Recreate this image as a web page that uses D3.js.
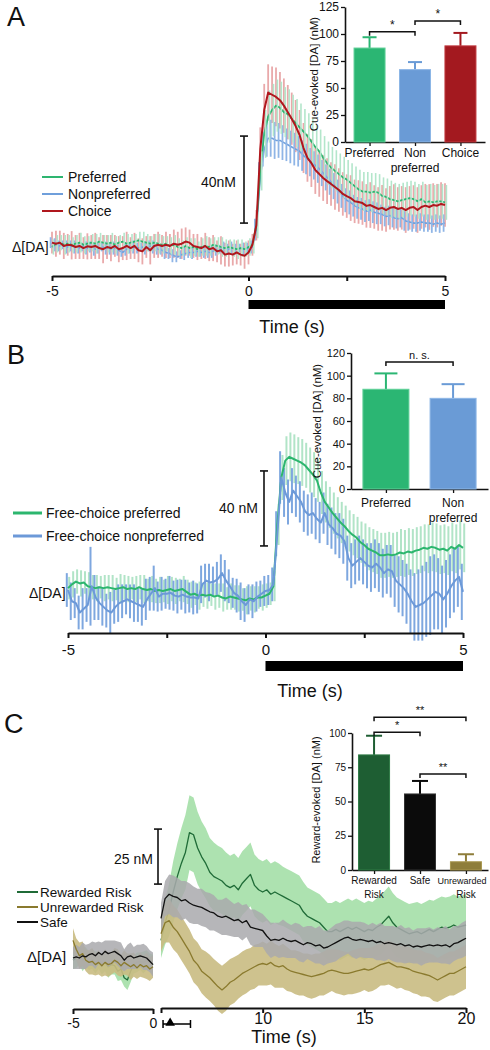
<!DOCTYPE html>
<html><head><meta charset="utf-8">
<script src="https://cdn.jsdelivr.net/npm/d3@7"></script>
<style>
body{margin:0;background:#fff}
svg{display:block}
text{font-family:"Liberation Sans",Arial,Helvetica,sans-serif;fill:#111}
</style></head>
<body><svg id="c" width="490" height="1050"></svg>
<script>
// ---------------- DATA ----------------
// Panel A: 0.1 s samples from -5 to 5 s (nM)
const aChoice = [2,1.5,2,0.5,1,0.8,0,0.5,-0.5,0.3, 0,0.5,-0.5,-1,0,-0.5,0.5,-1,-0.5,0.5, -0.5,0.5,-1.5,-2,0,-1.5,0.5,1,0.5,1, 0.5,1.5,1,1.5,2.5,2,0.5,0,-0.5,0.5, -1,-0.5,-2,-1.5,-3.5,-3,-3.5,-2.5,-3.5,-4, -2.5,
  1,10,45,63,71,70,69,67.5,65,62, 59,55.6,51.5,45.5,41,38.6,35.4,33.6,31.7,30.3, 29,27.6,26.2,24.4,23.4,22.5,21,20.7,20.2,18.9, 19.3,18.4,17.5,18,17,18,18.4,17.5,18,17, 18,18.4,17,18.4,19,18.4,19.3,19,19.8,19.3];
const aPreferred = [0,1.5,2,1,1.5,1,1.5,2,1,1.5, 2,1.5,2.5,2,1.5,2,1,2,2.5,1.5, 2,2.5,3,2.5,2,1.5,2,1.5,1,1.5, 0.5,1,0,-0.5,0.5,-0.5,0,-1,0,0.5, 0,1,0.5,0,-0.5,0,-0.5,-1,-0.5,-1, 0,
  1,10,35,52,60,63,65,64,62,61, 59,57,55,53,51,48.5,46,44,41,38.5, 36.5,35,33.5,32,31,29.5,28,26.5,25.5,25.5, 25,25.5,25,23.5,23,22,21.5,21,21.5,22, 22.5,22,21,22,20.5,21,20.5,21,21,20.5];
const aNonpreferred = [2,1,0.5,1,0,0.5,0,-0.5,0,-0.5, 0,-1,-0.5,0,-0.5,-1,-0.5,-1.5,-2.5,-1, -0.5,0,-0.5,0,-0.5,0.5,0,-1,-1.5,-2.5, -3,-4,-4.5,-3.5,-3,-2.5,-2.5,-2,-2.5,-2, -2.5,-2,-1.5,-1,-0.5,-1,-0.5,-1,-0.5,-1, -0.5,
  0,8,32,45,50,50,49,49,48,47, 46,45,44,42,40.5,39,37.5,36,34,32, 30,28,25.5,23.5,21.5,20.5,19,18,17.5,16.5, 17,16,15.5,15,14,14.5,13.5,13,13.5,12, 11.5,11,11,11.5,11,11,10.5,11,10.5,11];
const aChoiceErr = [5,6,5.5,6,5,6.5,5.5,6,5,6, 5.5,6,5,6.5,5.5,6,5,6,5.5,6.5, 5,6,5.5,6,5,6.5,5.5,6,5,6, 5.5,6.5,6,7,6.5,6,5.5,6,5,6, 5.5,6,5,6.5,5.5,6,5,5.5,5,6, 5.5,
  5,7,10,12,13,13,13.5,13,12.5,12.5, 12,12,11.5,11.5,11,11,11,10.5,10.5,10.5, 10,10.5,10,10,10,10.5,10,10,10,10, 10.5,10,10,10.5,10,10,10.5,10,10,10.5, 10,10,10.5,10,10,10.5,10,10,10,10];
const aPreferredErr = [3.5,4,3.5,4.5,4,3.5,4,4.5,4,3.5, 4,4.5,4,3.5,4,4.5,4,3.5,4,4.5, 4,3.5,4,4.5,4,3.5,4,4.5,4,3.5, 4,4.5,4,3.5,4,4.5,4,3.5,4,4.5, 4,3.5,4,4.5,4,3.5,4,4.5,4,3.5, 4,
  4,6,9,11,12,12,12,12,11.5,11.5, 11,11,11,10.5,10.5,10.5,10,10,10,10, 9.5,9.5,9.5,9.5,9,9,9,9,9,9, 9,8.5,8.5,8.5,8.5,8.5,8,8,8,8, 8,8,8,8,8,8,8,8,8,8];
const aNonpreferredErr = [2.5,3,2.5,2,3,2.5,3,2.5,2,3, 2.5,3,2.5,2,3,2.5,3,2.5,2,3, 2.5,3,2.5,2,3,2.5,3,2.5,2,3, 2.5,3,2.5,2,3,2.5,3,2.5,2,3, 2.5,3,2.5,2,3,2.5,3,2.5,2,3, 2.5,
  3,5,7,8,8.5,8.5,8.5,8,8,7.5, 7.5,7.5,7,7,7,6.5,6.5,6.5,6,6, 6,6,5.5,5.5,5.5,5.5,5,5,5,5, 5,5,5,4.5,4.5,4.5,4.5,4.5,4.5,4.5, 4,4,4,4,4,4,4,4,4,4];
const aBarCats = ["Preferred","Non|preferred","Choice"];
const aBarVals = [87, 67, 89];
const aBarSem = [10, 7, 12];
const aBarTicks = [0,25,50,75,100,125];

// Panel B
const bPreferred = [1,3,4.5,3.5,4,2,1.5,1,1.5,1, 1.5,1,0.5,1,1.5,0.5,1,0.5,1.5,0.5, 0,0.5,-0.5,0,-0.5,0,0.5,-0.5,0,0.5, -1,-2.5,-2,-3,-2.5,-3,-2.5,-3.5,-3,-4, -4.5,-3.5,-4,-4.5,-5,-5.5,-4.5,-5,-4,-4, -3,
  -2,2,35,60,69,71,70,69,68,66.5, 64,61.5,58.5,52,47,44,41,38.5,36,34, 31.5,29.5,28,25.5,24,22,21,20,18.5,18.5, 19,18.5,19,20,19.5,20.5,20,21,21.5,22.5, 22,23,22.5,21.5,22,21,23,22,24,22.5];
const bNonpreferred = [0,-6,-7,-12,-10,-8,2,-4,-7,-9, -11,-12,-9,-7,-6,-5,-6,-7,-8,-9, -5,-2,1,-3.5,-2,-2,-1.5,-3,-3.5,-2.5, -3.5,-4,-4,-4.5,3,5,4,4.5,6,9, 5,2,-1.5,-3,-6,-8,-5,-6,-3.5,-2, -0.5,
  0,3,30,60,52,47,53,50,47,42, 40,41,38,36,41,35,33,30,29,26, 17,13,15,17,15,13,12,14,12,9, 11,10,5,3,1,-2,-6,-9,-8,-7, -5,-3,-1,-2,-5,-2,2,5,7,-1];
const bPreferredErr = [6,7,6.5,7,6,7.5,6.5,7,6,7, 6.5,7,6,7.5,6.5,7,6,7,6.5,7.5, 6,7,6.5,7,6,7.5,6.5,7,6,7, 6.5,7,6,7.5,6.5,7,6,7,6.5,7.5, 6,7,6.5,7,6,7.5,6.5,7,6,7, 6.5,
  6,8,11,12,13,13,13,12.5,12.5,12, 12,12,11.5,11.5,11,11,11,11,11,11, 11,11,11,11,11.5,11.5,11.5,11.5,12,12, 12,12,12,12.5,12.5,12.5,12.5,12.5,12.5,12.5, 13,13,13,13,13,13,13,13,13,13];
const bNonpreferredErr = [9,10,8,9,11,9,21,12,9,10, 9,11,9,10,9,8,9,10,9,10, 11,9,12,8,9,8,9,8,9,8, 9,8,9,8,10,9,10,8,9,10, 11,9,8,9,10,9,8,9,8,7, 8,
  8,9,12,14,13,12,12,11,11,11, 11,11,11,11,11,11,11,11,12,12, 12,12,12,12,12,12,13,13,13,13, 13,14,14,15,15,16,17,18,19,20, 20,21,20,19,18,18,17,17,16,15];
const bBarCats = ["Preferred","Non|preferred"];
const bBarVals = [88, 80];
const bBarSem = [14, 12.5];
const bBarTicks = [0,20,40,60,80,100,120];

// Panel C: pre (-5..0 s) and post (5..20 s), 0.2 s samples
const cSafePre = [0,0.5,0,1,0.5,1.5,2,1,2.5,1.5, 3,2,2.5,3,2,1,-1,0.5,1,0, 0.5,1,0.5,0,-1.5,-3];
const cRewPre = [-1,0,1,-1,0.5,-1.5,-0.5,-2,-1,-3, -2,-4,-3,-3.5,-6,-5,-9,-10,-6,-3, -2,-1.5,-2,-1,-2,-3];
const cUnrewPre = [8,4,1,2,-1,-2,-1.5,-3,-2,-3.5, -2,-3,-2.5,-1,-2,-3.5,-2,-3,-4,-3, -4.5,-3,-4,-3.5,-5,-4];
const cSafePreErr = [5,5.5,5,6,5.5,5,5.5,6,5,5.5, 5,6,5.5,5,5.5,6,5,5.5,6,5, 5.5,5,6,5.5,5,5.5];
const cRewPreErr = [4,4.5,4,5,4.5,4,4.5,5,4,4.5, 4,5,4.5,4,4.5,5,4,4.5,5,4, 4.5,4,5,4.5,4,4.5];
const cUnrewPreErr = [5.5,5,6,5.5,5,5.5,6,5,5.5,5, 6,5.5,5,5.5,6,5,5.5,5,6,5.5, 5,5.5,5,6,5.5,5];
const cRewPost = [8,16,22,30,37,43,48,57,56,50, 46,43,39,37,36,35,33,32,33,31, 34,36,38,33,31,30,31,29,30,29, 28,27,26,25,24,21,19,18,17,16, 14,12,12,13,12,13,14,13,14,13, 12,13,12.5,14,15,17,19,16,14,13, 12,11,11.5,12,11,12,13,12,13,14, 13.5,14,15,14,14.5,15];
const cSafePost = [18,27,29,28,27.5,26,26.5,25,24,23.5, 23,22,21,20.5,19,18.5,19,18,17,17.5, 16,17,14,13.5,13,12.5,10,8,8.5,8, 9,8,7.5,8,7,6,7,6.5,5.5,6, 4.5,5,6,7,8,9,9.5,8.5,8,8.5, 8,7.5,8,7,7.5,6.5,7,6.5,6,6.5, 5.5,6,5,5.5,5,5.5,6,5.5,6,5.5, 6,5,6.5,7,8,9];
const cUnrewPost = [11,16,17,14,12,9,6,3,-1,-3, -6,-7.5,-9,-11,-13,-14.5,-13,-11,-10,-8.5, -7,-6,-5,-4,-3,-2.5,-3,-2,-3.5,-4, -3.5,-5,-6,-6.5,-7,-7.5,-8,-8.5,-8,-7.5, -7,-6,-5.5,-6,-6.5,-7,-7,-6.5,-6,-5.5, -5,-5.5,-5,-4,-3,-2.5,-2,-3,-4,-4, -4.5,-5,-6,-6.5,-7,-7.5,-8,-9,-10,-9, -8,-7,-7,-6,-5,-4];
const cRewPostErr = [8,10,12,14,15,16,17,17,17,16.5, 16,16,15.5,15.5,15,15,15,14.5,14.5,14.5, 14.5,14.5,14.5,14,14,14,14,14,14,14, 13.5,13.5,13.5,13.5,13.5,13.5,13,13,13,13, 13,13,13,13,13,13,13,13,13,13, 13,13,13,13,13.5,13.5,13.5,13.5,13.5,13.5, 13.5,13.5,13.5,13.5,13.5,13.5,13.5,14,14,14, 14,14,14,14,14,14];
const cSafePostErr = [7,8,9,9.5,9,9,8.5,9,8.5,8, 8.5,8,8.5,8,7.5,8,8.5,8,7.5,8, 8,7.5,8,8.5,8,7.5,8,8,7.5,8, 8.5,8,7.5,8,8.5,8,7.5,8,8,8.5, 8,7.5,8,8.5,8,8,7.5,8,8.5,8, 8,7.5,8,8,8.5,8,7.5,8,8,8.5, 8,8,7.5,8,8.5,8,8,7.5,8,8, 8.5,8,8,7.5,8,8];
const cUnrewPostErr = [8,9,10,10,10,10,10,10,10,10, 10,10.5,10.5,10.5,11,11,11,10.5,10.5,10, 10,10,9.5,10,9.5,10,9.5,10,10,9.5, 10,10,9.5,10,10,9.5,10,10,10,9.5, 10,10,9.5,10,10,10,9.5,10,10,10, 9.5,10,10,10,9.5,10,10,10,10,9.5, 10,10,10,10,10.5,10,10,10.5,10,10, 10,10,10,10,10,10];
const cBarCats = ["Rewarded|Risk","Safe","Unrewarded|Risk"];
const cBarVals = [84, 55.5, 6];
const cBarSem = [14, 9.5, 5.5];
const cBarTicks = [0,25,50,75,100];

// ---------------- DRAWING ----------------
const svg = d3.select('#c');
const FONT = '"Liberation Sans",Arial,Helvetica,sans-serif';
const timesAB = d3.range(101).map(i => -5 + i / 10);
const timesCpre = d3.range(26).map(i => -5 + i / 5);
const timesCpost = d3.range(76).map(i => 5 + i / 5);
const fmtTick = d => String(d);

function pts(ts, vs, es) { return ts.map((t, i) => ({t, v: vs[i], e: es ? es[i] : 0})); }
function errBars(g, xs, ys, data, color, w, dx) {
  g.append('g').selectAll('line').data(data).join('line')
    .attr('x1', d => xs(d.t) + dx).attr('x2', d => xs(d.t) + dx)
    .attr('y1', d => ys(d.v - d.e)).attr('y2', d => ys(d.v + d.e))
    .attr('stroke', color).attr('stroke-width', w);
}
function trace(g, xs, ys, data, color, w) {
  g.append('path').datum(data)
    .attr('d', d3.line().x(d => xs(d.t)).y(d => ys(d.v)))
    .attr('fill', 'none').attr('stroke', color).attr('stroke-width', w)
    .attr('stroke-linejoin', 'round');
}
function band(g, xs, ys, data, color, op) {
  g.append('path').datum(data)
    .attr('d', d3.area().x(d => xs(d.t)).y0(d => ys(d.v - d.e)).y1(d => ys(d.v + d.e)))
    .attr('fill', color).attr('opacity', op);
}
function txt(x, y, s, size, anchor) {
  return svg.append('text').attr('x', x).attr('y', y).text(s)
    .attr('font-size', size).attr('text-anchor', anchor || 'start').attr('fill', '#111');
}
function scaleBar(x, y1, y2) {
  const g = svg.append('g').attr('stroke', '#111').attr('stroke-width', 1.6);
  g.append('line').attr('x1', x).attr('x2', x).attr('y1', y1).attr('y2', y2);
  g.append('line').attr('x1', x - 4).attr('x2', x + 4).attr('y1', y1).attr('y2', y1);
  g.append('line').attr('x1', x - 4).attr('x2', x + 4).attr('y1', y2).attr('y2', y2);
}
function styleAxis(g, size) {
  g.selectAll('path,line').attr('stroke', '#111');
  g.selectAll('text').attr('font-family', FONT).attr('font-size', size).attr('fill', '#111');
  g.attr('font-family', null);
}
function inset(cfg) {
  const xs = d3.scalePoint().domain(cfg.cats).range(cfg.xr).padding(cfg.pad);
  const ys = d3.scaleLinear().domain(cfg.yd).range(cfg.yr);
  const ga = svg.append('g').attr('transform', `translate(${cfg.xr[0]},0)`)
    .call(d3.axisLeft(ys).tickValues(cfg.ticks).tickSize(4).tickSizeOuter(0).tickPadding(2));
  styleAxis(ga, cfg.tickFs);
  ga.select('.domain').attr('stroke-width', 1.6);
  ga.selectAll('.tick line').attr('stroke-width', 1.3);
  const gb = svg.append('g').attr('transform', `translate(0,${cfg.yr[0]})`)
    .call(d3.axisBottom(xs).tickSize(4).tickSizeOuter(0).tickFormat(''));
  styleAxis(gb, 10);
  gb.select('.domain').attr('stroke-width', 1.6);
  gb.selectAll('.tick line').attr('stroke-width', 1.3);
  cfg.cats.forEach((c, i) => {
    const x = xs(c), v = cfg.vals[i], e = cfg.sem[i];
    svg.append('line').attr('x1', x).attr('x2', x).attr('y1', ys(v)).attr('y2', ys(v + e))
      .attr('stroke', cfg.colors[i]).attr('stroke-width', 2);
    svg.append('line').attr('x1', x - cfg.cap / 2).attr('x2', x + cfg.cap / 2).attr('y1', ys(v + e)).attr('y2', ys(v + e))
      .attr('stroke', cfg.colors[i]).attr('stroke-width', 2);
    svg.append('rect').attr('x', x - cfg.bw / 2).attr('y', ys(v)).attr('width', cfg.bw)
      .attr('height', ys(0) - ys(v)).attr('fill', cfg.colors[i])
      .attr('stroke', cfg.edges[i]).attr('stroke-width', 1);
    c.split('|').forEach((line, j) => {
      const long = cfg.longFs && line.length > 9;
      txt(x - (long ? 4 : 0), cfg.labY + j * cfg.labDy, line, long ? cfg.longFs : cfg.labFs, 'middle');
    });
  });
  svg.append('text').attr('transform', `translate(${cfg.ylab[0]},${cfg.ylab[1]}) rotate(-90)`)
    .attr('text-anchor', 'middle').attr('font-size', cfg.ylabFs).attr('fill', '#111').text(cfg.ylabText);
  cfg.brackets.forEach(b => {
    const x1 = xs(cfg.cats[b[0]]), x2 = xs(cfg.cats[b[1]]), y = ys(b[2]);
    svg.append('path').attr('d', `M${x1},${y + 4}V${y}H${x2}V${y + 4}`)
      .attr('fill', 'none').attr('stroke', '#111').attr('stroke-width', 1.5);
    txt((x1 + x2) / 2, y - 3, b[3], cfg.starFs, 'middle');
  });
}

// ===== Panel A =====
{
  const xA = d3.scaleLinear().domain([-5, 5]).range([52, 445]);
  const yA = d3.scaleLinear().domain([0, 40]).range([247, 160]);
  txt(7, 26, 'A', 27);
  const g = svg.append('g');
  errBars(g, xA, yA, pts(timesAB, aChoice, aChoiceErr), '#e9a9aa', 1.8, 0);
  trace(g, xA, yA, pts(timesAB, aNonpreferred), '#6f9fdb', 1.6);
  errBars(g, xA, yA, pts(timesAB, aNonpreferred, aNonpreferredErr), '#8fb5e6', 1.8, -1.4);
  trace(g, xA, yA, pts(timesAB, aPreferred), '#2eb570', 1.8);
  errBars(g, xA, yA, pts(timesAB, aPreferred, aPreferredErr), '#b3e6cb', 1.6, 1.4);
  trace(g, xA, yA, pts(timesAB, aChoice), '#b0171d', 2);
  const ax = svg.append('g').attr('transform', 'translate(0,276)')
    .call(d3.axisBottom(xA).tickValues([-5, -2.5, 0, 2.5, 5]).tickSize(5).tickSizeOuter(0).tickPadding(5)
      .tickFormat(d => d % 5 === 0 ? fmtTick(d) : ''));
  styleAxis(ax, 14);
  ax.selectAll('path,line').attr('stroke-width', 2);
  svg.append('rect').attr('x', xA(0)).attr('y', 300).attr('width', xA(5) - xA(0)).attr('height', 9).attr('fill', '#000');
  txt(292, 333, 'Time (s)', 18, 'middle');
  scaleBar(244, yA(51), yA(11));
  txt(236, 187, '40nM', 14, 'end');
  txt(12, 252, 'Δ[DA]', 14);
  [['Preferred', '#2eb570', 177], ['Nonpreferred', '#6f9fdb', 194], ['Choice', '#b0171d', 211]].forEach(l => {
    svg.append('line').attr('x1', 42).attr('x2', 63).attr('y1', l[2]).attr('y2', l[2]).attr('stroke', l[1]).attr('stroke-width', 2);
    txt(68, l[2] + 5, l[0], 14);
  });
  inset({cats: aBarCats, xr: [345, 485], pad: 0.54, yd: [0, 125], yr: [142, 7], ticks: aBarTicks, tickFs: 12,
    vals: aBarVals, sem: aBarSem, colors: ['#2bb673', '#6a9bd6', '#a3191f'], edges: ['#5fd098', '#8cb6e6', '#c0393f'],
    bw: 31, cap: 14, labY: 157, labDy: 15, labFs: 12, ylab: [318, 74], ylabFs: 11.5, ylabText: 'Cue-evoked [DA] (nM)',
    brackets: [[0, 1, 102, '*'], [1, 2, 112, '*']], starFs: 12});
}

// ===== Panel B =====
{
  const xB = d3.scaleLinear().domain([-5, 5]).range([68, 463]);
  const yB = d3.scaleLinear().domain([0, 40]).range([590, 515]);
  txt(7, 364, 'B', 27);
  const g = svg.append('g');
  errBars(g, xB, yB, pts(timesAB, bPreferred, bPreferredErr), '#b1e4c7', 2, 1.2);
  errBars(g, xB, yB, pts(timesAB, bNonpreferred, bNonpreferredErr), '#7ea7df', 2, -1.2);
  trace(g, xB, yB, pts(timesAB, bPreferred), '#2cb66e', 2);
  trace(g, xB, yB, pts(timesAB, bNonpreferred), '#6c99d8', 2);
  const ax = svg.append('g').attr('transform', 'translate(0,633)')
    .call(d3.axisBottom(xB).tickValues([-5, -2.5, 0, 2.5, 5]).tickSize(5).tickSizeOuter(0).tickPadding(6)
      .tickFormat(d => d % 5 === 0 ? fmtTick(d) : ''));
  styleAxis(ax, 15);
  ax.selectAll('path,line').attr('stroke-width', 2);
  svg.append('rect').attr('x', xB(0)).attr('y', 661).attr('width', xB(5) - xB(0)).attr('height', 10).attr('fill', '#000');
  txt(310, 697, 'Time (s)', 18, 'middle');
  scaleBar(264, yB(63.5), yB(23.5));
  txt(258, 513, '40 nM', 14, 'end');
  txt(29, 598, 'Δ[DA]', 14);
  [['Free-choice preferred', '#2cb66e', 513], ['Free-choice nonpreferred', '#6c99d8', 536]].forEach(l => {
    svg.append('line').attr('x1', 13).attr('x2', 42).attr('y1', l[2]).attr('y2', l[2]).attr('stroke', l[1]).attr('stroke-width', 3);
    txt(46, l[2] + 5, l[0], 14);
  });
  inset({cats: bBarCats, xr: [351, 488], pad: 0.52, yd: [0, 120], yr: [489, 353], ticks: bBarTicks, tickFs: 11,
    vals: bBarVals, sem: bBarSem, colors: ['#2bb673', '#6a9bd6'], edges: ['#5fd098', '#8cb6e6'],
    bw: 46, cap: 23, labY: 507, labDy: 15, labFs: 12, ylab: [321, 421], ylabFs: 11.5, ylabText: 'Cue-evoked  [DA] (nM)',
    brackets: [[0, 1, 112, 'n. s.']], starFs: 11});
}

// ===== Panel C =====
{
  const xPre = d3.scaleLinear().domain([-5, 0]).range([73, 153]);
  const xPost = d3.scaleLinear().domain([5, 20]).range([161, 466]);
  const yC = d3.scaleLinear().domain([0, 25]).range([958, 903]);
  txt(4, 733, 'C', 27);
  const g = svg.append('g');
  [[xPre, timesCpre, cRewPre, cRewPreErr, cSafePre, cSafePreErr, cUnrewPre, cUnrewPreErr],
   [xPost, timesCpost, cRewPost, cRewPostErr, cSafePost, cSafePostErr, cUnrewPost, cUnrewPostErr]].forEach(s => {
    const [xs, ts, r, re, sf, se, u, ue] = s;
    band(g, xs, yC, pts(ts, r, re), '#a4dfa7', 0.9);
    trace(g, xs, yC, pts(ts, r), '#1f6b37', 1.3);
    band(g, xs, yC, pts(ts, u, ue), '#c9bb82', 0.9);
    band(g, xs, yC, pts(ts, sf, se), '#a9a9ad', 0.85);
    trace(g, xs, yC, pts(ts, u), '#8a7a2e', 1.3);
    trace(g, xs, yC, pts(ts, sf), '#111', 1.3);
  });
  const a1 = svg.append('g').attr('transform', 'translate(0,1009)')
    .call(d3.axisBottom(xPre).tickValues([-5, 0]).tickSize(5).tickSizeOuter(0).tickPadding(4).tickFormat(fmtTick));
  styleAxis(a1, 14);
  a1.selectAll('path,line').attr('stroke-width', 2);
  const a2 = svg.append('g').attr('transform', 'translate(0,1008)')
    .call(d3.axisBottom(xPost).tickValues([5, 10, 15, 20]).tickSize(5).tickSizeOuter(0).tickPadding(0)
      .tickFormat(d => d === 5 ? '' : fmtTick(d)));
  styleAxis(a2, 16);
  a2.selectAll('path,line').attr('stroke-width', 2);
  // reward delivery marker
  svg.append('path').attr('d', d3.symbol(d3.symbolTriangle, 40)()).attr('transform', `translate(${xPost(5.45)},1023)`).attr('fill', '#000');
  svg.append('path').attr('d', `M${xPost(5.1)},1020V1028M${xPost(5.1)},1024H${xPost(6.45)}M${xPost(6.45)},1020V1028`)
    .attr('stroke', '#000').attr('stroke-width', 1.5).attr('fill', 'none');
  txt(284, 1043, 'Time (s)', 18, 'middle');
  scaleBar(158, yC(58.6), yC(33.6));
  txt(153, 864, '25 nM', 14, 'end');
  txt(27, 962, 'Δ[DA]', 15);
  [['Rewarded Risk', '#1f6b37', 892], ['Unrewarded Risk', '#8a7a2e', 907], ['Safe', '#111', 922]].forEach(l => {
    svg.append('line').attr('x1', 17).attr('x2', 38).attr('y1', l[2]).attr('y2', l[2]).attr('stroke', l[1]).attr('stroke-width', 2);
    txt(40, l[2] + 5, l[0], 13.5);
  });
  inset({cats: cBarCats, xr: [352, 488], pad: 0.48, yd: [0, 100], yr: [870, 733], ticks: cBarTicks, tickFs: 10,
    vals: cBarVals, sem: cBarSem, colors: ['#1e5e33', '#0b0b0b', '#8e7d3a'], edges: ['#2e7a45', '#333', '#a8974f'],
    bw: 31, cap: 16, labY: 884, labDy: 14, labFs: 10, longFs: 9, ylab: [320, 800], ylabFs: 11, ylabText: 'Reward-evoked [DA] (nM)',
    brackets: [[0, 2, 111.5, '**'], [0, 1, 100.5, '*'], [1, 2, 70, '**']], starFs: 11});
}
</script></body></html>
